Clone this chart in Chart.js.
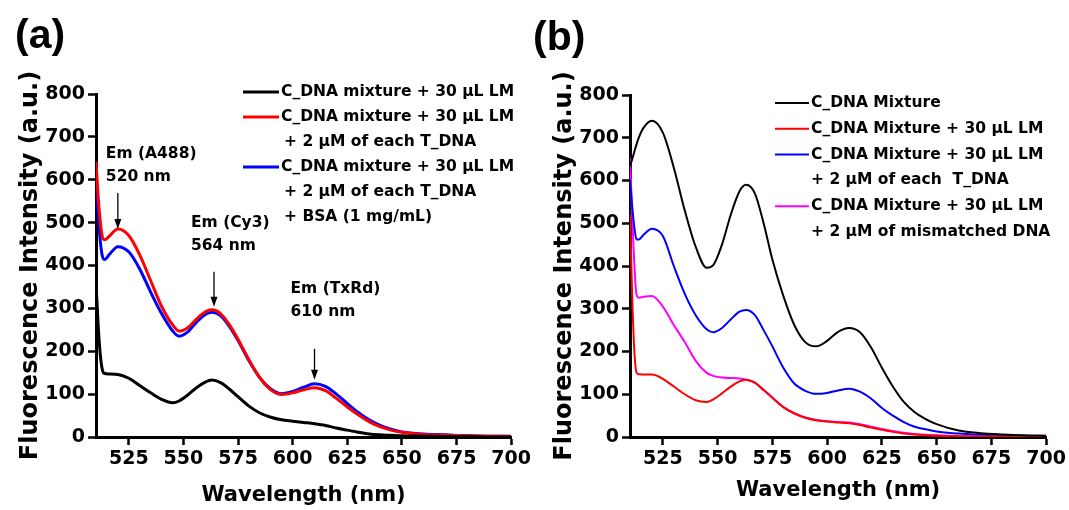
<!DOCTYPE html>
<html>
<head>
<meta charset="utf-8">
<script src="https://cdn.jsdelivr.net/npm/chart.js"></script>
<style>
  body { margin: 0; background: #fff; }
  #wrap { position: relative; width: 1069px; height: 510px; overflow: hidden; }
  .panel { position: absolute; top: 0; height: 510px; }
  .tag { position: absolute; font: bold 41px 'Liberation Sans', Arial, sans-serif; line-height: 41px; color: #000; }
</style>
</head>
<body>
<div id="wrap">
  <div class="panel" style="left:0;width:534px"><canvas id="chartA"></canvas></div>
  <div class="panel" style="left:534px;width:535px"><canvas id="chartB"></canvas></div>
  <div class="tag" style="left:15px;top:14px">(a)</div>
  <div class="tag" style="left:533px;top:16px">(b)</div>
</div>
<script>
// Emission spectra
const wavelength = [510, 511, 512, 513, 514, 516, 520, 525, 530, 535, 540, 545, 548, 552, 556, 560, 563, 567, 571, 575,
                    580, 585, 590, 595, 600, 605, 610, 615, 620, 625, 630, 635, 640, 645, 650, 660, 670, 680, 690, 700];

// panel (a)
const aBlack = [360, 260, 190, 155, 148, 147, 146, 137, 120, 103, 88, 80, 84, 98, 115, 128, 133, 127, 112, 94,
                72, 56, 46, 40, 37, 34, 31, 27, 21, 16, 11, 7, 5, 4, 3, 2, 1, 1, 0, 0];
const aRed = [642, 560, 500, 465, 460, 468, 485, 470, 425, 365, 305, 262, 247, 255, 275, 292, 297, 288, 262, 228,
              180, 138, 110, 99, 103, 110, 115, 108, 90, 70, 52, 36, 24, 16, 11, 6, 4, 3, 2, 1];
const aBlue = [600, 520, 455, 420, 414, 425, 444, 432, 392, 338, 288, 248, 235, 245, 268, 286, 291, 283, 258, 225,
               178, 138, 112, 101, 106, 116, 124, 118, 100, 78, 57, 40, 27, 18, 12, 7, 5, 3, 2, 2];

// panel (b)
const bBlack = [634, 650, 668, 685, 700, 722, 740, 712, 630, 530, 445, 396, 402, 450, 520, 575, 590, 570, 500, 415,
                330, 262, 222, 212, 225, 246, 255, 245, 210, 162, 118, 82, 58, 42, 30, 15, 9, 6, 4, 3];
const bRed = [520, 330, 200, 150, 147, 146, 146, 136, 118, 100, 86, 82, 88, 102, 118, 130, 134, 127, 110, 92,
              70, 55, 45, 39, 36, 34, 32, 28, 22, 17, 12, 8, 6, 4, 3, 2, 1, 1, 0, 0];
const bBlue = [601, 540, 490, 462, 462, 472, 487, 470, 400, 335, 285, 252, 245, 255, 275, 293, 297, 285, 250, 212,
               162, 125, 108, 101, 103, 109, 113, 106, 90, 68, 50, 35, 24, 18, 13, 8, 5, 3, 2, 2];
const bMagenta = [652, 520, 400, 332, 326, 328, 330, 305, 262, 222, 178, 150, 143, 139, 138, 137, 134, 127, 110, 92,
                  70, 56, 46, 40, 37, 35, 34, 30, 24, 19, 14, 10, 7, 5, 4, 2, 1, 1, 1, 0];

const xTicks = [525, 550, 575, 600, 625, 650, 675, 700];
const yTicks = [0, 100, 200, 300, 400, 500, 600, 700, 800];

const aLabels = [
  ['C_DNA mixture + 30 \u03bcL LM'],
  ['C_DNA mixture + 30 \u03bcL LM', '+ 2 \u00b5M of each T_DNA'],
  ['C_DNA mixture + 30 \u03bcL LM', '+ 2 \u00b5M of each T_DNA', '+ BSA (1 mg/mL)']
];
const bLabels = [
  ['C_DNA Mixture'],
  ['C_DNA Mixture + 30 \u03bcL LM'],
  ['C_DNA Mixture + 30 \u03bcL LM', '+ 2 \u00b5M of each  T_DNA'],
  ['C_DNA Mixture + 30 \u03bcL LM', '+ 2 \u00b5M of mismatched DNA']
];

// emission peaks marked with arrows in (a)
const peakNm = [520, 564, 610];
const peakDye = ['Em (A488)', 'Em (Cy3)', 'Em (TxRd)'];

const FONT = "'DejaVu Sans', sans-serif";

function points(values) {
  return values.map((v, i) => ({ x: wavelength[i], y: v }));
}

function valueAt(values, nm) {
  for (let i = 1; i < wavelength.length; i++) {
    if (wavelength[i] >= nm) {
      const t = (nm - wavelength[i - 1]) / (wavelength[i] - wavelength[i - 1]);
      return values[i - 1] + t * (values[i] - values[i - 1]);
    }
  }
  return values[values.length - 1];
}

// legend drawn at the top right, with multi-line labels
const sideLegend = {
  id: 'sideLegend',
  afterDraw(chart, args, opts) {
    const ctx = chart.ctx;
    ctx.save();
    ctx.font = opts.font;
    ctx.textBaseline = 'middle';
    ctx.fillStyle = '#000';
    let row = 0;
    chart.data.datasets.forEach(ds => {
      const y = opts.y + row * opts.rowH;
      ctx.strokeStyle = ds.borderColor;
      ctx.lineWidth = opts.lineWidth;
      ctx.beginPath();
      ctx.moveTo(opts.x, y);
      ctx.lineTo(opts.x + opts.sample, y);
      ctx.stroke();
      ds.label.forEach((t, i) => {
        ctx.fillText(t, opts.x + opts.sample + 2 + (i ? opts.indent : 0), opts.y + (row + i) * opts.rowH);
      });
      row += ds.label.length;
    });
    ctx.restore();
  }
};

// arrows + text for the emission peaks
const peakNotes = {
  id: 'peakNotes',
  afterDatasetsDraw(chart, args, opts) {
    if (!opts.layout) return;
    const { ctx, scales: { x, y } } = chart;
    ctx.save();
    ctx.font = opts.font;
    ctx.textBaseline = 'middle';
    ctx.fillStyle = '#000';
    ctx.strokeStyle = '#000';
    ctx.lineWidth = 1.3;
    peakNm.forEach((nm, k) => {
      const L = opts.layout[k];
      const top = Math.max(...opts.series.map(s => valueAt(s, nm)));
      const px = x.getPixelForValue(nm);
      const tip = y.getPixelForValue(top) - L.tipGap;
      const start = tip - L.len;
      ctx.beginPath();
      ctx.moveTo(px, start);
      ctx.lineTo(px, tip - 8);
      ctx.stroke();
      ctx.beginPath();
      ctx.moveTo(px - 3.5, tip - 10);
      ctx.lineTo(px + 3.5, tip - 10);
      ctx.lineTo(px, tip);
      ctx.closePath();
      ctx.fill();
      const ty = start - L.gap;
      ctx.fillText(peakDye[k], px + L.dx, ty - 23);
      ctx.fillText(nm + ' nm', px + L.dx, ty);
    });
    ctx.restore();
  }
};

function makeOptions(cfg) {
  return {
    responsive: true,
    maintainAspectRatio: false,
    animation: false,
    layout: { padding: { top: cfg.top, right: cfg.right, left: 0, bottom: 0 } },
    elements: {
      point: { radius: 0 },
      line: { borderWidth: cfg.lineWidth, cubicInterpolationMode: 'monotone' }
    },
    plugins: {
      legend: { display: false },
      tooltip: { enabled: false },
      sideLegend: cfg.legend,
      peakNotes: cfg.notes || {}
    },
    scales: {
      x: {
        type: 'linear',
        min: 510,
        max: 700,
        afterBuildTicks: s => { s.ticks = xTicks.map(v => ({ value: v })); },
        afterFit: s => { s.height = 73; },
        grid: { drawOnChartArea: false, tickLength: 8, tickWidth: 2.5, tickColor: '#000' },
        border: { color: '#000', width: 3 },
        ticks: { color: '#000', font: { family: FONT, weight: 'bold', size: 19 }, maxRotation: 0, autoSkip: false },
        title: {
          display: true, text: 'Wavelength (nm)', color: '#000',
          font: { family: FONT, weight: 'bold', size: 21 },
          padding: { top: 0, bottom: cfg.xTitlePad }
        }
      },
      y: {
        min: 0,
        max: 800,
        afterBuildTicks: s => { s.ticks = yTicks.map(v => ({ value: v })); },
        afterFit: s => { s.width = 96; },
        grid: { drawOnChartArea: false, tickLength: 8, tickWidth: 2.5, tickColor: '#000' },
        border: { color: '#000', width: 3 },
        ticks: { color: '#000', font: { family: FONT, weight: 'bold', size: 19 } },
        title: {
          display: true, text: 'Fluorescence Intensity (a.u.)', color: '#000',
          font: { family: FONT, weight: 'bold', size: 24 },
          padding: { top: 16, bottom: 0 }
        }
      }
    }
  };
}

new Chart(document.getElementById('chartA'), {
  type: 'line',
  data: {
    datasets: [
      { label: aLabels[0], data: points(aBlack), borderColor: '#000000' },
      { label: aLabels[1], data: points(aRed), borderColor: '#ff0000' },
      { label: aLabels[2], data: points(aBlue), borderColor: '#0000ff' }
    ]
  },
  options: makeOptions({
    top: 94, right: 21, lineWidth: 3, xTitlePad: 2,
    legend: { x: 243, y: 92, rowH: 25, sample: 36, indent: 3, lineWidth: 3, font: "bold 15.5px " + FONT },
    notes: {
      series: [aRed, aBlue],
      font: "bold 15.5px " + FONT,
      layout: [
        { dx: -12, gap: 16, len: 36, tipGap: 0 },
        { dx: -23, gap: 26, len: 35, tipGap: 4 },
        { dx: -24, gap: 37, len: 31, tipGap: 4 }
      ]
    }
  }),
  plugins: [sideLegend, peakNotes]
});

new Chart(document.getElementById('chartB'), {
  type: 'line',
  data: {
    datasets: [
      { label: bLabels[0], data: points(bBlack), borderColor: '#000000' },
      { label: bLabels[1], data: points(bRed), borderColor: '#ff0000' },
      { label: bLabels[2], data: points(bBlue), borderColor: '#0000ff' },
      { label: bLabels[3], data: points(bMagenta), borderColor: '#ff00ff' }
    ]
  },
  options: makeOptions({
    top: 95, right: 22, lineWidth: 2, xTitlePad: 7,
    legend: { x: 241, y: 103, rowH: 25.8, sample: 34, indent: 0, lineWidth: 2, font: "bold 15.5px " + FONT }
  }),
  plugins: [sideLegend, peakNotes]
});
</script>
</body>
</html>
